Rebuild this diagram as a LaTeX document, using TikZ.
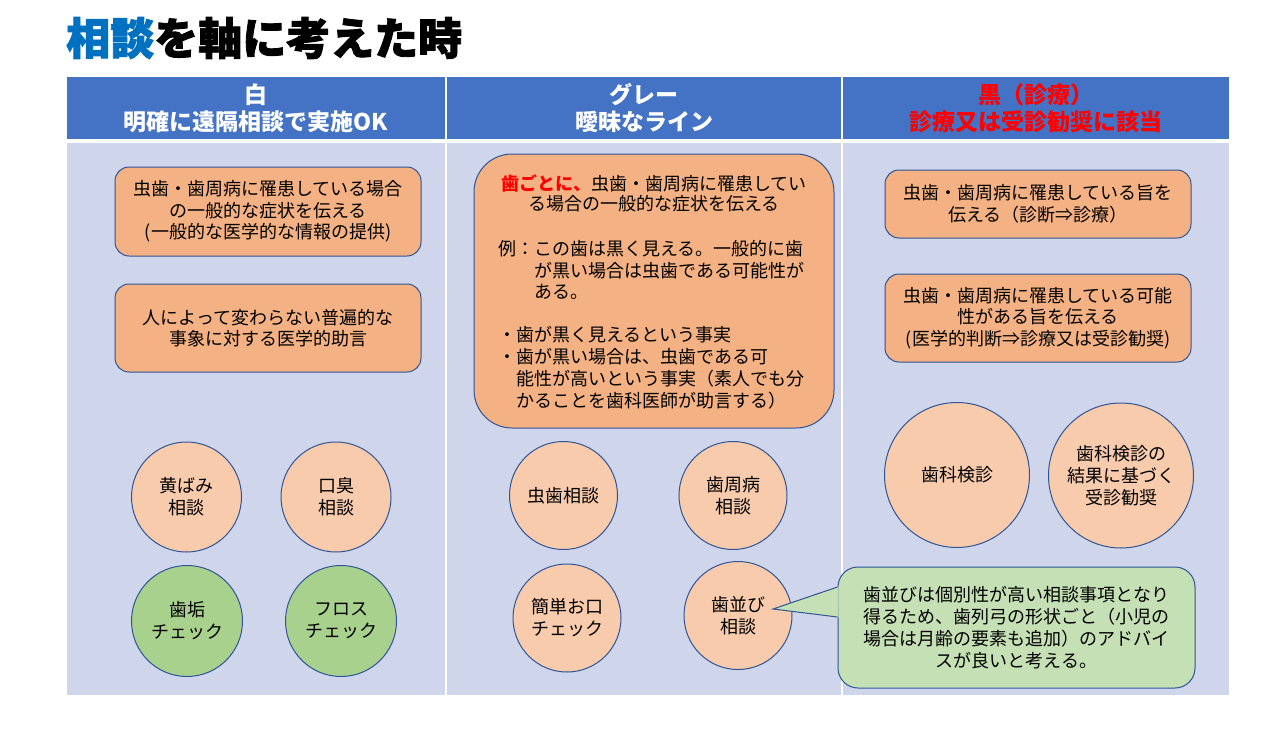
\documentclass[tikz,border=0pt]{standalone}
\usepackage{fontspec}
\setmainfont{Noto Sans CJK JP}
\newfontfamily\titlefont{Noto Sans CJK JP}[BoldFeatures={FakeBold=2}]
\usetikzlibrary{calc}
\definecolor{hdrblue}{HTML}{4472C4}
\definecolor{cellbg}{HTML}{CFD5EA}
\definecolor{boxor}{HTML}{F4B183}
\definecolor{circor}{HTML}{F8CBAD}
\definecolor{circgr}{HTML}{A9D18E}
\definecolor{callgr}{HTML}{C5E0B4}
\definecolor{edgeblue}{HTML}{2F5597}
\definecolor{titleblue}{HTML}{0070C0}
\definecolor{alertred}{HTML}{FF0000}
\tikzset{
  hdr/.style={fill=hdrblue, text=white, minimum height=62pt, inner sep=0pt, align=center,
    font=\fontsize{23}{27}\selectfont\bfseries},
  cell/.style={fill=cellbg, minimum height=552pt, inner sep=0pt},
  rbox/.style={draw=edgeblue, line width=1pt, fill=boxor, rounded corners=14pt, inner sep=0pt,
    align=center, font=\fontsize{18}{21.5}\selectfont},
  circ/.style={circle, draw=edgeblue, line width=1pt, fill=circor, inner sep=0pt, align=center,
    font=\fontsize{18}{22}\selectfont},
  gcirc/.style={circ, fill=circgr},
  lline/.style={anchor=west, inner sep=0pt, font=\fontsize{18}{21.5}\selectfont},
  cline/.style={anchor=center, inner sep=0pt, font=\fontsize{18}{21.5}\selectfont},
  callbox/.style={draw=edgeblue, line width=1pt, fill=callgr, rounded corners=20pt, inner sep=0pt,
    align=center, font=\fontsize{18}{22}\selectfont},
}
\begin{document}
\begin{tikzpicture}[x=1pt,y=-1pt]
\useasboundingbox (0,0) rectangle (1286,731);
\fill[white] (0,0) rectangle (1286,731);

% title
\node[anchor=west, inner sep=0pt, font=\titlefont\fontsize{44}{48}\selectfont\bfseries] (title) at (66,38)
  {{\color{titleblue}相談}を軸に考えた時};

% header cells
\node[hdr, minimum width=378pt] (h1) at (256,108) {白\\明確に遠隔相談で実施OK};
\node[hdr, minimum width=394pt] (h2) at (644,108) {グレー\\曖昧なライン};
\node[hdr, minimum width=386pt, text=alertred] (h3) at (1036,108) {黒（診療）\\診療又は受診勧奨に該当};

% body cells
\node[cell, minimum width=378pt] (b1) at (256,419) {};
\node[cell, minimum width=394pt] (b2) at (644,419) {};
\node[cell, minimum width=386pt] (b3) at (1036,419) {};

% column 1
\node[rbox, minimum width=306pt, minimum height=89pt] (w1) at (268,211.5)
  {虫歯・歯周病に罹患している場合\\の一般的な症状を伝える\\(一般的な医学的な情報の提供)};
\node[rbox, minimum width=306pt, minimum height=88pt] (w2) at (268,328)
  {人によって変わらない普遍的な\\事象に対する医学的助言};
\node[circ, minimum size=110pt] (c1) at (186.5,497) {黄ばみ\\相談};
\node[circ, minimum size=110pt] (c2) at (336,497) {口臭\\相談};
\node[gcirc, minimum size=111pt] (c3) at (187,621) {歯垢\\チェック};
\node[gcirc, minimum size=111pt] (c4) at (341,621) {フロス\\チェック};

% column 2
\node[rbox, rounded corners=38pt, minimum width=360pt, minimum height=274pt] (g1) at (654,291) {};
\node[cline] (g1a) at (654,183) {{\color{alertred}\bfseries 歯ごとに、}虫歯・歯周病に罹患してい};
\node[cline] (g1b) at (654,203.5) {る場合の一般的な症状を伝える};
\node[lline] (g1c) at (498,249) {例：この歯は黒く見える。一般的に歯};
\node[lline] (g1d) at (534,270.5) {が黒い場合は虫歯である可能性が};
\node[lline] (g1e) at (534,292) {ある。};
\node[lline] (g1f) at (498,335) {・歯が黒く見えるという事実};
\node[lline] (g1g) at (498,357) {・歯が黒い場合は、虫歯である可};
\node[lline] (g1h) at (516,379) {能性が高いという事実（素人でも分};
\node[lline] (g1i) at (516,400.5) {かることを歯科医師が助言する）};
\node[circ, minimum size=108pt] (c5) at (563.5,495.5) {虫歯相談};
\node[circ, minimum size=108pt] (c6) at (733,495.5) {歯周病\\相談};
\node[circ, minimum size=108pt] (c7) at (567,618) {簡単お口\\チェック};
\node[circ, minimum size=108pt] (c8) at (738,615.5) {歯並び\\相談};

% column 3
\node[rbox, minimum width=306pt, minimum height=68pt] (k1) at (1038,204)
  {虫歯・歯周病に罹患している旨を\\伝える（診断⇒診療）};
\node[rbox, minimum width=306pt, minimum height=88pt] (k2) at (1038,318)
  {虫歯・歯周病に罹患している可能\\性がある旨を伝える\\(医学的判断⇒診療又は受診勧奨)};
\node[circ, minimum size=145pt] (c9) at (957,475) {歯科検診};
\node[circ, minimum size=145pt] (c10) at (1121,475.5) {歯科検診の\\結果に基づく\\受診勧奨};

% callout
\node[callbox, minimum width=357pt, minimum height=121pt] (adv) at (1016.5,627.5)
  {歯並びは個別性が高い相談事項となり\\得るため、歯列弓の形状ごと（小児の\\場合は月齢の要素も追加）のアドバイ\\スが良いと考える。};
\coordinate (tip) at ($(c8.center)+(35,-6.5)$);
\fill[callgr] ($(adv.west)+(1.2,-41)$) -- (tip) -- ($(adv.west)+(1.2,-10)$) -- cycle;
\draw[edgeblue, line width=1pt, line join=miter] ($(adv.west)+(0,-40.5)$) -- (tip) -- ($(adv.west)+(0,-10.5)$);
\end{tikzpicture}
\end{document}
